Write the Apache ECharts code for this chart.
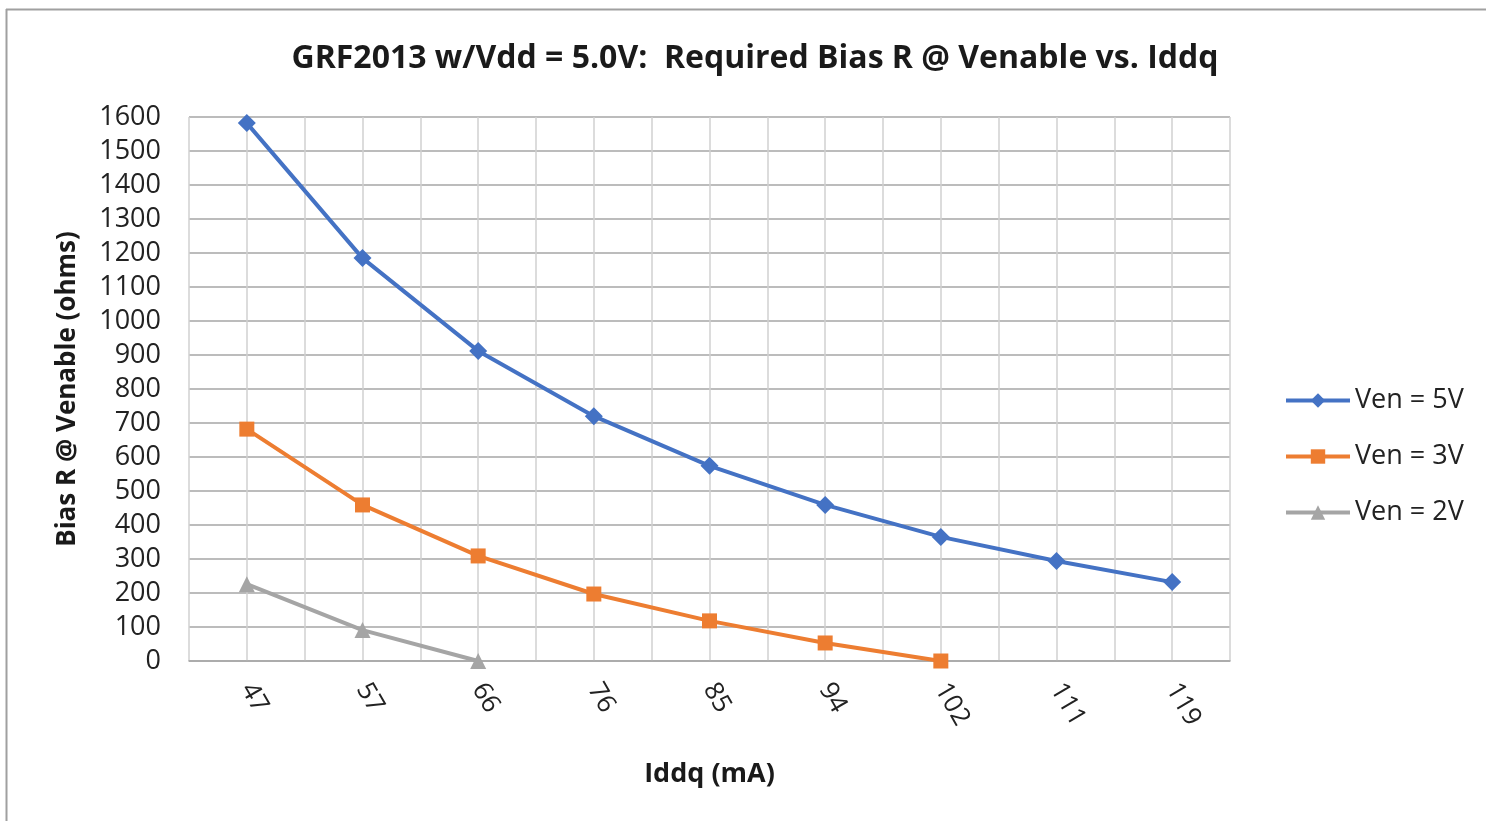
<!DOCTYPE html>
<html>
<head>
<meta charset="utf-8">
<script src="https://cdn.jsdelivr.net/npm/echarts@6/dist/echarts.min.js"></script>
<style>html,body{margin:0;padding:0;background:#fff;}#c{width:1486px;height:821px;}</style>
</head>
<body>
<div id="c"></div>
<script>
const categories = ['47','57','66','76','85','94','102','111','119'];
const ven5 = [1582, 1185, 912, 720, 574, 459, 365, 294, 232];
const ven3 = [682, 459, 309, 197, 118, 53, 0, null, null];
const ven2 = [226, 91, 0, null, null, null, null, null, null];
const seriesNames = ['Ven = 5V', 'Ven = 3V', 'Ven = 2V'];
const colors = ['#4472C4', '#ED7D31', '#A5A5A5'];

const font = 'Open Sans, Lato, sans-serif';
const chart = echarts.init(document.getElementById('c'));
chart.setOption({
  animation: false,
  color: colors,
  title: {
    text: 'GRF2013 w/Vdd = 5.0V:  Required Bias R @ Venable vs. Iddq',
    left: 750, top: 38, textAlign: 'center',
    textStyle: {fontFamily: font, fontWeight: 'bold', fontSize: 32, color: '#1a1a1a'}
  },
  graphic: [
    {type: 'line', shape: {x1: 6, y1: 9.5, x2: 1486, y2: 9.5}, style: {stroke: '#a0a0a0', lineWidth: 2}},
    {type: 'line', shape: {x1: 6.5, y1: 9, x2: 6.5, y2: 821}, style: {stroke: '#a0a0a0', lineWidth: 2}}
  ],
  legend: {
    orient: 'vertical', left: 1279, top: 382,
    itemWidth: 64, itemHeight: 18, itemGap: 29,
    lineStyle: {width: 4},
    textStyle: {fontFamily: font, fontSize: 27, lineHeight: 24, color: '#222'},
    data: seriesNames
  },
  grid: {left: 189, right: 256, top: 117, bottom: 160},
  xAxis: [
    {
      type: 'category', data: categories, boundaryGap: true,
      name: 'Iddq (mA)', nameLocation: 'middle', nameGap: 100,
      nameTextStyle: {fontFamily: font, fontWeight: 'bold', fontSize: 27, color: '#1a1a1a'},
      axisLine: {lineStyle: {color: '#a6a6a6', width: 1.5}},
      axisTick: {alignWithLabel: true, length: 8, lineStyle: {color: '#a6a6a6'}},
      axisLabel: {rotate: -60, margin: 24, fontFamily: font, fontSize: 26, color: '#222'},
      splitLine: {show: false}
    },
    {
      type: 'value', min: 0, max: 18, interval: 1, position: 'bottom',
      axisLine: {show: false}, axisTick: {show: false}, axisLabel: {show: false},
      splitLine: {show: true, lineStyle: {color: '#d0d0d0', width: 1.5}}
    }
  ],
  yAxis: {
    type: 'value', min: 0, max: 1600, interval: 100,
    name: 'Bias R @ Venable (ohms)', nameLocation: 'middle', nameGap: 108,
    nameTextStyle: {fontFamily: font, fontWeight: 'bold', fontSize: 26, color: '#1a1a1a'},
    axisLine: {show: false}, axisTick: {show: false},
    axisLabel: {margin: 28, fontFamily: font, fontSize: 27, color: '#222', formatter: v => String(v)},
    splitLine: {lineStyle: {color: '#a6a6a6', width: 1.5}}
  },
  series: [
    {name: seriesNames[0], type: 'line', data: ven5, symbol: 'diamond', symbolSize: 18,
     lineStyle: {width: 4}, itemStyle: {color: colors[0]}},
    {name: seriesNames[1], type: 'line', data: ven3, symbol: 'rect', symbolSize: 15,
     lineStyle: {width: 4}, itemStyle: {color: colors[1]}},
    {name: seriesNames[2], type: 'line', data: ven2, symbol: 'triangle', symbolSize: 16,
     lineStyle: {width: 4}, itemStyle: {color: colors[2]}}
  ]
});
</script>
</body>
</html>
